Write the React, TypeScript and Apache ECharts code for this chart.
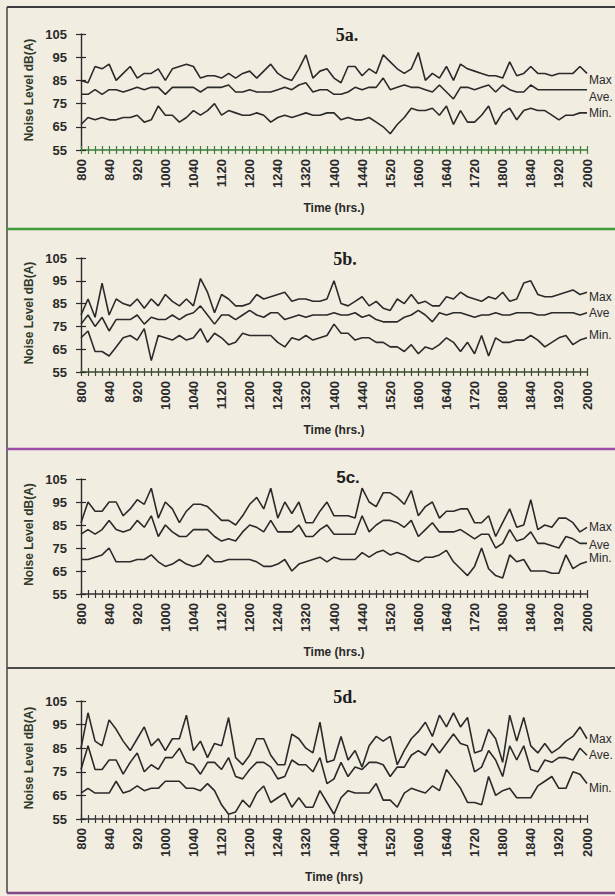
import { useEffect, useRef } from "react";
import * as echarts from "echarts";

const times = [
  "800", "810", "820", "830", "840", "850",
  "900", "910", "920", "930", "940", "950",
  "1000", "1010", "1020", "1030", "1040", "1050",
  "1100", "1110", "1120", "1130", "1140", "1150",
  "1200", "1210", "1220", "1230", "1240", "1250",
  "1300", "1310", "1320", "1330", "1340", "1350",
  "1400", "1410", "1420", "1430", "1440", "1450",
  "1500", "1510", "1520", "1530", "1540", "1550",
  "1600", "1610", "1620", "1630", "1640", "1650",
  "1700", "1710", "1720", "1730", "1740", "1750",
  "1800", "1810", "1820", "1830", "1840", "1850",
  "1900", "1910", "1920", "1930", "1940", "1950",
  "2000",
];

const max5a = [85,84,91,90,92,85,88,91,86,88, 88,90,85,90,91,92,91,86,87,87, 86,88,86,88,89,86,89,92,88,86, 85,90,96,86,89,90,86,84,91,91, 87,90,88,96,93,90,88,90,97,85, 88,86,91,85,92,90,89,88,87,87, 86,93,87,88,91,88,88,87,88,88, 88,91,88];
const ave5a = [79,79,81,79,81,81,80,81,82,81, 82,82,79,82,82,82,82,80,82,82, 82,83,80,80,81,80,80,80,81,82, 81,83,84,80,81,81,79,79,80,82, 81,82,82,86,81,82,83,82,82,81, 80,83,80,77,82,82,81,82,83,80, 83,81,80,80,83,81,81,81,81,81, 81,81,81];
const min5a = [66,69,68,69,68,68,69,69,70,67, 68,74,70,70,67,69,72,70,72,75, 70,72,71,70,70,71,70,67,69,70, 69,70,71,70,70,71,71,68,69,68, 68,69,67,65,62,66,69,73,72,72, 73,70,74,66,72,67,67,70,74,66, 71,73,68,72,73,72,72,70,68,70, 70,71,71];

const max5b = [80,87,79,94,80,87,85,84,87,83, 87,84,89,86,84,87,84,96,90,81, 89,87,84,84,85,89,87,88,89,90, 86,87,87,86,86,87,95,85,84,86, 88,84,86,83,82,87,85,89,85,86, 84,84,88,87,90,88,87,86,88,87, 90,86,87,94,95,89,88,88,89,90, 91,89,90];
const ave5b = [76,80,75,79,73,78,78,78,80,76, 79,78,78,80,78,80,81,84,80,76, 80,80,78,80,82,80,79,81,81,78, 79,80,79,80,80,80,81,80,80,81, 79,80,78,77,77,77,79,80,82,80, 77,81,80,81,81,80,79,80,80,81, 80,80,81,81,81,80,80,81,81,81, 81,80,81];
const min5b = [70,73,64,64,62,66,70,71,69,74, 60,71,70,69,71,69,70,74,68,72, 70,67,68,72,71,71,71,71,68,66, 70,69,71,69,70,71,76,72,72,69, 70,70,68,68,66,66,64,67,63,66, 65,67,70,68,64,68,63,71,62,70, 68,68,69,69,71,69,66,68,70,71, 67,69,70];

const max5c = [86,95,91,91,95,95,89,92,96,94, 101,88,95,92,86,91,94,94,93,90, 87,87,85,89,94,97,92,101,88,95, 90,95,86,86,91,95,89,89,89,88, 101,95,93,99,99,97,94,100,89,93, 95,88,91,91,92,92,86,86,89,80, 86,92,84,85,96,83,85,84,88,88, 86,82,84];
const ave5c = [81,83,81,83,87,83,82,83,87,84, 89,80,85,82,80,80,83,83,83,80, 78,79,78,82,85,84,82,87,82,82, 82,85,80,80,83,85,81,81,81,81, 89,82,85,87,87,86,84,87,80,83, 86,82,82,82,83,81,79,81,81,75, 77,83,78,79,82,77,77,76,75,80, 79,77,77];
const min5c = [70,70,71,72,75,69,69,69,70,70, 72,69,67,68,70,68,67,68,72,69, 69,70,70,70,70,69,67,67,68,70, 65,68,69,70,71,69,71,70,70,70, 73,71,73,74,72,73,72,70,69,71, 71,72,74,69,66,63,67,75,66,63, 62,72,69,70,65,65,65,64,64,72, 66,68,69];

const max5d = [85,100,88,86,97,93,88,84,89,94, 86,89,84,89,89,99,84,88,81,87, 86,98,81,78,82,89,89,82,78,78, 91,89,85,83,96,79,80,90,80,84, 77,86,90,88,90,78,84,89,92,96, 90,99,94,100,94,98,83,84,93,89, 79,99,88,98,86,83,87,83,85,88, 90,94,89];
const ave5d = [76,86,76,76,80,80,74,79,83,75, 78,76,81,81,85,79,78,74,79,79, 76,81,73,72,76,79,79,77,72,73, 80,78,78,75,81,70,72,79,73,77, 76,79,79,78,73,77,77,82,84,82, 87,83,87,91,87,86,75,77,84,80, 73,86,80,86,76,75,80,79,81,81, 80,85,82];
const min5d = [66,68,66,66,66,71,66,67,69,67, 68,68,71,71,71,68,68,67,70,67, 61,57,58,63,60,66,69,62,64,66, 60,64,60,60,67,62,57,64,67,66, 66,66,70,63,63,60,66,68,67,66, 69,67,76,72,68,62,62,61,73,65, 67,68,64,64,64,69,71,73,68,68, 75,74,70];

const panelTitles = ["5a.", "5b.", "5c.", "5d."];
const timeAxisNames = ["Time (hrs.)", "Time (hrs.)", "Time (hrs.)", "Time (hrs)"];
const lineNames = [
  ["Max", "Ave.", "Min."],
  ["Max", "Ave", "Min."],
  ["Max", "Ave", "Min."],
  ["Max", "Ave.", "Min."],
];
const yAxisName = "Noise Level dB(A)";
const yMin = 55;
const yMax = 105;
const yStep = 10;

const SANS = '"Liberation Sans", Arial, sans-serif';
const SERIF = '"Liberation Serif", "Times New Roman", serif';
const INK = "#2a2a2a";

export default function App() {
  const ref = useRef<HTMLDivElement>(null);

  useEffect(() => {
    if (!ref.current) return;
    const chart = echarts.init(ref.current, null, { renderer: "svg" });

    const panels = [
      { top: 34, height: 116, data: [max5a, ave5a, min5a], axisColor: "#3a7f3a", offs: [7, 7, 0], title: { x: 347, y: 35, font: `bold 18px ${SERIF}` } },
      { top: 258, height: 114, data: [max5b, ave5b, min5b], axisColor: "#3b4a2e", offs: [5, 0, -3], title: { x: 345, y: 259, font: `bold 18px ${SERIF}` } },
      { top: 479, height: 115, data: [max5c, ave5c, min5c], axisColor: "#333", offs: [0, 2, -4], title: { x: 348, y: 477, font: `bold 17px ${SANS}` } },
      { top: 701, height: 118, data: [max5d, ave5d, min5d], axisColor: "#333", offs: [0, 0, 4], title: { x: 345, y: 697, font: `bold 18px ${SERIF}` } },
    ];

    const grids: any[] = [];
    const xAxes: any[] = [];
    const yAxes: any[] = [];
    const series: any[] = [];
    const graphics: any[] = [];

    panels.forEach((p, k) => {
      grids.push({ left: 81, width: 506, top: p.top, height: p.height, containLabel: false, outerBoundsMode: "none" });
      const tickStyle = { color: p.axisColor, width: 1.2 };
      xAxes.push({
        type: "category", gridIndex: k, data: times, boundaryGap: false, position: "bottom",
        axisLine: { show: true, lineStyle: { color: p.axisColor, width: 1.6 } },
        axisTick: { show: true, interval: 0, length: 4, inside: false, lineStyle: tickStyle },
        axisLabel: { interval: 3, rotate: 90, margin: 9, fontSize: 13, fontWeight: "bold", fontFamily: SANS, color: INK },
        splitLine: { show: false },
        name: timeAxisNames[k], nameLocation: "middle", nameGap: 52,
        nameTextStyle: { fontSize: 12, fontWeight: "bold", fontFamily: SANS, color: INK },
      });
      xAxes.push({
        type: "category", gridIndex: k, data: times, boundaryGap: false, position: "bottom",
        axisLine: { show: false },
        axisTick: { show: true, interval: 0, length: 4, inside: true, lineStyle: tickStyle },
        axisLabel: { show: false }, splitLine: { show: false },
      });
      yAxes.push({
        type: "value", gridIndex: k, min: yMin, max: yMax, interval: yStep, position: "left",
        axisLine: { show: true, lineStyle: { color: INK, width: 1.4 } },
        axisTick: { show: true, length: 5, inside: false, lineStyle: { color: INK, width: 1.2 } },
        axisLabel: { margin: 14, fontSize: 13, fontWeight: "bold", fontFamily: SANS, color: INK },
        splitLine: { show: false },
      });
      yAxes.push({
        type: "value", gridIndex: k, min: yMin, max: yMax, interval: yStep, position: "left",
        axisLine: { show: false },
        axisTick: { show: true, length: 5, inside: true, lineStyle: { color: INK, width: 1.2 } },
        axisLabel: { show: false }, splitLine: { show: false },
      });
      p.data.forEach((vals, j) => {
        series.push({
          type: "line", name: lineNames[k][j], xAxisIndex: 2 * k, yAxisIndex: 2 * k,
          data: vals, symbol: "none", silent: true,
          lineStyle: { color: INK, width: 1.6 },
          endLabel: {
            show: true, formatter: lineNames[k][j], distance: 2, offset: [0, p.offs[j]],
            fontSize: 12, fontFamily: SANS, color: INK,
          },
        });
      });
      graphics.push({
        type: "text", x: p.title.x, y: p.title.y,
        style: { text: panelTitles[k], font: p.title.font, fill: "#1e1e1e", align: "center", verticalAlign: "middle" },
      });
      graphics.push({
        type: "text", x: 29, y: p.top + p.height / 2 - 2, rotation: Math.PI / 2,
        style: { text: yAxisName, font: `bold 12px ${SANS}`, fill: "#2e3a2a", align: "center", verticalAlign: "middle" },
      });
    });

    // panel frame
    graphics.push({ type: "line", shape: { x1: 7, y1: 7, x2: 615, y2: 7 }, style: { stroke: "#3c3c3c", lineWidth: 2 } });
    graphics.push({ type: "line", shape: { x1: 7, y1: 7, x2: 7, y2: 893 }, style: { stroke: "#444", lineWidth: 1.5 } });
    graphics.push({ type: "line", shape: { x1: 7, y1: 229, x2: 615, y2: 229 }, style: { stroke: "#3f9a3a", lineWidth: 2.5 } });
    graphics.push({ type: "line", shape: { x1: 7, y1: 449, x2: 615, y2: 449 }, style: { stroke: "#9d4fa6", lineWidth: 2.5 } });
    graphics.push({ type: "line", shape: { x1: 7, y1: 668, x2: 615, y2: 668 }, style: { stroke: "#4a4a4a", lineWidth: 2 } });
    graphics.push({ type: "line", shape: { x1: 7, y1: 893, x2: 615, y2: 893 }, style: { stroke: "#7f4a86", lineWidth: 2.5 } });

    chart.setOption({
      animation: false,
      backgroundColor: "#f1ede0",
      grid: grids,
      xAxis: xAxes,
      yAxis: yAxes,
      series,
      graphic: graphics,
    });

    return () => chart.dispose();
  }, []);

  return (
    <div
      ref={ref}
      style={{ position: "absolute", left: 0, top: 0, width: 615, height: 896 }}
    />
  );
}
